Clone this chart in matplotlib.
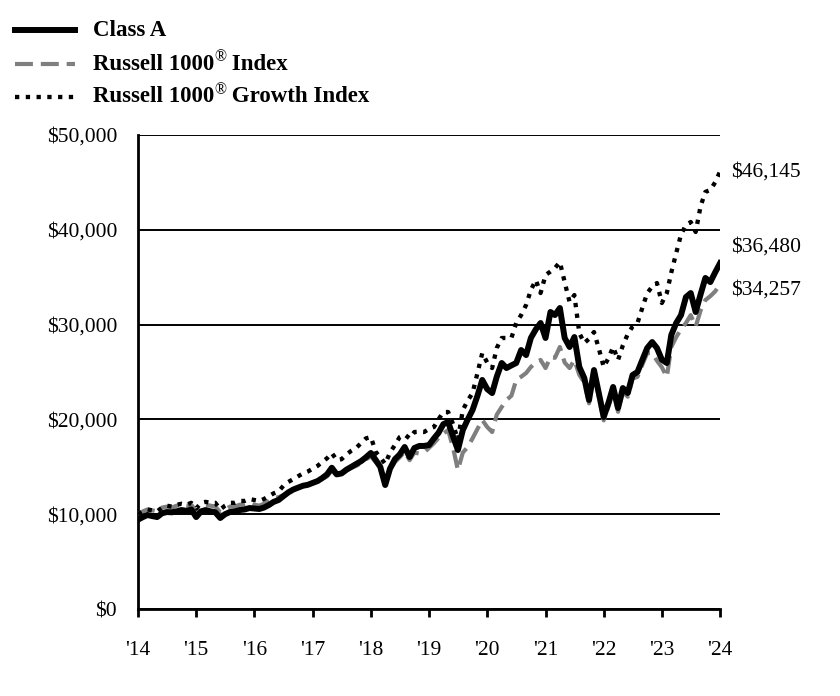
import numpy as np
import pandas as pd
import matplotlib
matplotlib.use('Agg')
import matplotlib.pyplot as plt
from matplotlib.transforms import offset_copy

plt.rcParams['font.family'] = ['Liberation Serif', 'DejaVu Serif']

# monthly values, Jan 2014 .. Jan 2024
dates = pd.date_range('2014-01-01', periods=121, freq='MS')

class_a = [
    9425, 9700, 9920, 9800, 9700, 10100, 10230, 10200, 10300, 10440, 10350, 10500,
    9700, 10300, 10440, 10300, 10200, 9600, 10000, 10230, 10300, 10440, 10500, 10650,
    10600, 10550, 10700, 10970, 11300, 11500, 11900, 12300, 12600, 12800, 13000, 13100,
    13300, 13500, 13800, 14200, 14900, 14200, 14300, 14700, 15000, 15300, 15600, 16000,
    16460, 15700, 15000, 13080, 14800, 15800, 16300, 17090, 16030, 16980, 17200, 17200,
    17300, 18000, 18570, 19500, 19730, 18200, 16770, 18880, 20000, 20990, 22500, 24160,
    23200, 22780, 24500, 25950, 25420, 25700, 25950, 27320, 26790, 28590, 29500, 30170,
    28590, 31330, 31010, 31750, 28590, 27640, 28690, 25530, 24370, 22050, 25210, 22800,
    20250, 21800, 23420, 21200, 23310, 22780, 24680, 25000, 26300, 27530, 28160, 27530,
    26300, 25950, 28900, 30170, 31000, 32910, 33330, 31330, 33200, 34920, 34490, 35500,
    36480,
]

russell_1000 = [
    10000, 10300, 10500, 10400, 10300, 10700, 10800, 10700, 10900, 11000, 10900, 11000,
    10300, 10900, 11000, 10900, 10800, 10200, 10500, 10800, 10800, 11000, 11000, 11200,
    11000, 10900, 11100, 11400, 11700, 11800, 12000, 12300, 12600, 12800, 13000, 13100,
    13300, 13500, 13700, 14000, 14600, 14100, 14200, 14600, 14900, 15100, 15400, 15800,
    16100, 15500, 14900, 13400, 14700, 15500, 16000, 16600, 15700, 16500, 16400, 16500,
    17000, 17500, 18040, 18500, 18880, 17000, 14660, 16500, 17090, 18000, 19000, 19940,
    19200, 18670, 20500, 21310, 22050, 22500, 24160, 24500, 24890, 25530, 26000, 26270,
    25420, 26580, 26500, 27640, 26000, 25420, 26270, 24700, 23900, 21700, 24800, 22400,
    19900, 21400, 23000, 20800, 22900, 22400, 24300, 24500, 25800, 27000, 27000, 26200,
    25500, 24470, 27640, 28690, 29500, 30170, 31000, 29800, 31500, 32590, 33000, 33500,
    34257,
]

russell_1000_growth = [
    10000, 10300, 10500, 10400, 10300, 10700, 10900, 10800, 11000, 11100, 11000, 11200,
    10600, 11200, 11300, 11200, 11200, 10500, 10900, 11200, 11200, 11400, 11400, 11600,
    11500, 11400, 11600, 11900, 12200, 12400, 13000, 13400, 13700, 14000, 14300, 14500,
    14800, 15100, 15500, 15900, 16460, 15700, 15800, 16300, 16700, 17000, 17500, 18000,
    18140, 16560, 16000, 15300, 16500, 17300, 18140, 18400, 18000, 18670, 18700, 18670,
    19000, 19200, 20000, 20780, 20780, 19500, 17830, 20990, 22000, 22780, 24890, 27000,
    26000, 25420, 27530, 28590, 28590, 28600, 30170, 31010, 32070, 33650, 34700, 33330,
    35230, 35600, 35970, 36600, 34490, 32380, 33120, 29110, 28060, 28500, 29220, 27500,
    25530, 26500, 27640, 26270, 27800, 29000, 29800, 30170, 31800, 33330, 34000, 34390,
    32280, 33330, 35500, 37550, 39500, 40500, 40820, 39770, 42500, 44000, 44200, 45000,
    46145,
]

# legend labels: (text before ®, text after ®)
series_labels = [('Class A', None), ('Russell 1000', ' Index'), ('Russell 1000', ' Growth Index')]
end_labels = ['$36,480', '$34,257', '$46,145']
year_labels = ["'14", "'15", "'16", "'17", "'18", "'19", "'20", "'21", "'22", "'23", "'24"]

fig = plt.figure(figsize=(8.4, 6.96), dpi=100)
ax = fig.add_axes([0.1643, 0.125, 0.6929, 0.681])

gray_style = dict(color='#7f7f7f', lw=3.0, linestyle=(0, (4.3, 1.9)), dash_capstyle='butt')
black_style = dict(color='black', lw=4.3)
dot_style = dict(color='black', lw=3.1, linestyle=(0, (1, 1.5)), dash_capstyle='butt')

ax.plot(dates, russell_1000, zorder=3, **gray_style)
ax.plot(dates, class_a, zorder=4, **black_style)
ax.plot(dates, russell_1000_growth, zorder=5, **dot_style)

ax.set_xlim(dates[0], dates[-1])
ax.set_ylim(0, 50000)
ax.set_yticks(np.arange(0, 50001, 10000))
ax.set_yticklabels(['$0', '$10,000', '$20,000', '$30,000', '$40,000', '$50,000'], fontsize=15.5)
ax.tick_params(axis='y', length=0, pad=15)
ax.yaxis.grid(True, color='black', lw=1.4)
ax.set_axisbelow(True)

years = pd.date_range('2014-01-01', periods=11, freq='YS')
ax.set_xticks(years)
ax.set_xticklabels(year_labels, fontsize=15.5)
ax.tick_params(axis='x', direction='out', length=6, width=2, pad=17)

for s in ['top', 'right']:
    ax.spines[s].set_visible(False)
for s in ['left', 'bottom']:
    ax.spines[s].set_linewidth(2)

# values at the end of each line
end_y = [38200, 33650, 46100]
for lab, yy in zip(end_labels, end_y):
    ax.annotate(lab, xy=(1.0, yy), xycoords=('axes fraction', 'data'),
                xytext=(8, 0), textcoords='offset points', va='center', ha='left',
                fontsize=15.5, annotation_clip=False)

# legend drawn by hand in figure coords
leg_x0, leg_x1, leg_tx = 15 / 840, 75 / 840, 93 / 840
leg_y = [1 - 30 / 696, 1 - 64 / 696, 1 - 97 / 696]
styles = [black_style, gray_style, dot_style]
renderer = fig.canvas.get_renderer()
for yy, st, (lab, rest) in zip(leg_y, styles, series_labels):
    fig.add_artist(plt.Line2D([leg_x0, leg_x1], [yy, yy], transform=fig.transFigure, **st))
    t = fig.text(leg_tx, yy, lab, fontsize=16.5, fontweight='bold', va='center', ha='left')
    if rest is None:
        continue
    w = t.get_window_extent(renderer).width
    tr = offset_copy(fig.transFigure, fig=fig, x=w * 72 / fig.dpi, y=5, units='points')
    r = fig.text(leg_tx, yy, '®', fontsize=11.5, va='center', ha='left', transform=tr)
    w2 = r.get_window_extent(renderer).width
    tr2 = offset_copy(fig.transFigure, fig=fig, x=(w + w2) * 72 / fig.dpi, y=0, units='points')
    fig.text(leg_tx, yy, rest, fontsize=16.5, fontweight='bold', va='center', ha='left', transform=tr2)

fig.savefig('out.png', dpi=100)
